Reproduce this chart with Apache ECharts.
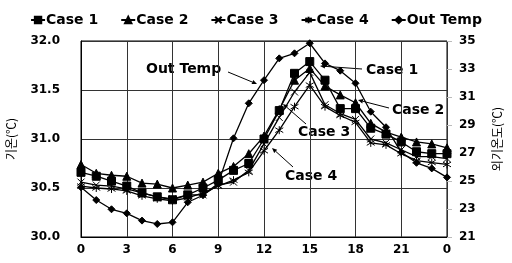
<!DOCTYPE html>
<html>
<head>
<meta charset="utf-8">
<script src="https://cdn.jsdelivr.net/npm/echarts@6/dist/echarts.min.js"></script>
<style>
  html, body { margin: 0; padding: 0; background: #fff; }
  #chart { width: 512px; height: 263px; }
</style>
</head>
<body>
<div id="chart"></div>
<script>
// hour of day, last point wraps back to 0
const hours = ['0','1','2','3','4','5','6','7','8','9','10','11','12','13','14','15','16','17','18','19','20','21','22','23','0']

// indoor temperature (left axis, °C)
const case1 = [30.66,30.62,30.57,30.52,30.45,30.41,30.38,30.43,30.50,30.58,30.68,30.75,31.00,31.29,31.67,31.79,31.60,31.31,31.31,31.11,31.05,30.97,30.87,30.85,30.85]
const case2 = [30.74,30.65,30.63,30.62,30.55,30.54,30.50,30.53,30.56,30.65,30.72,30.85,31.03,31.30,31.60,31.72,31.54,31.45,31.37,31.16,31.07,31.02,30.97,30.95,30.91]
const case3 = [30.56,30.53,30.52,30.49,30.45,30.41,30.39,30.43,30.43,30.53,30.56,30.68,30.95,31.22,31.48,31.68,31.35,31.26,31.20,31.00,30.96,30.89,30.82,30.82,30.80]
const case4 = [30.52,30.50,30.49,30.47,30.42,30.39,30.37,30.40,30.45,30.52,30.58,30.66,30.88,31.09,31.33,31.55,31.33,31.24,31.17,30.96,30.94,30.85,30.78,30.76,30.74]

// outdoor temperature (right axis, °C)
const outTemp = [24.55,23.64,22.98,22.69,22.17,21.93,22.05,23.48,23.98,24.83,28.05,30.55,32.20,33.76,34.12,34.84,33.40,32.88,31.98,29.95,28.84,27.05,26.30,25.90,25.26]

const FONT = 'DejaVu Sans'
const crossPath = 'path://M0,0L10,10M10,0L0,10'
const starPath = 'path://M0,2L10,8M10,2L0,8M5,0L5,10'

function mk(name, data, symbol, size, yIdx) {
    return {
        name: name,
        type: 'line',
        data: data,
        yAxisIndex: yIdx,
        symbol: symbol,
        symbolSize: size,
        showSymbol: true,
        animation: false,
        lineStyle: {color: '#000', width: 1.3},
        itemStyle: {color: '#000', borderColor: '#000', borderWidth: 1}
    }
}

// small arrow for the callout labels
function arrow(x1, y1, x2, y2) {
    let a = Math.atan2(y2 - y1, x2 - x1)
    let l = 5, w = 2.2
    let bx = x2 - l * Math.cos(a), by = y2 - l * Math.sin(a)
    return [
        {type: 'line', shape: {x1: x1, y1: y1, x2: bx, y2: by}, style: {stroke: '#000', lineWidth: 1}},
        {type: 'polygon', shape: {points: [[x2, y2],
            [bx + w * Math.sin(a), by - w * Math.cos(a)],
            [bx - w * Math.sin(a), by + w * Math.cos(a)]]}, style: {fill: '#000'}}
    ]
}

function label(text, x, y) {
    return {type: 'text', x: x, y: y, style: {text: text, font: 'bold 14px "' + FONT + '"', fill: '#000', textVerticalAlign: 'middle'}}
}

let chart = echarts.init(document.getElementById('chart'), null, {renderer: 'canvas'})
chart.setOption({
    animation: false,
    backgroundColor: '#fff',
    textStyle: {fontFamily: FONT},
    legend: {
        top: 8,
        left: 'center',
        itemGap: 22,
        itemWidth: 14,
        itemHeight: 8,
        textStyle: {fontFamily: FONT, fontWeight: 'bold', fontSize: 14, color: '#000', padding: [0, 0, 0, -4]},
        data: ['Case 1', 'Case 2', 'Case 3', 'Case 4', 'Out Temp']
    },
    grid: {left: 81, right: 65, top: 41, bottom: 26, show: true, borderColor: '#000', borderWidth: 1,
        containLabel: false, outerBoundsMode: 'none'},
    xAxis: {
        type: 'category',
        data: hours,
        boundaryGap: false,
        axisLine: {lineStyle: {color: '#000'}},
        axisTick: {show: false},
        axisLabel: {interval: 2, color: '#000', fontWeight: 'bold', fontSize: 12, margin: 7, fontFamily: FONT},
        splitLine: {show: true, interval: 2, lineStyle: {color: '#333', width: 1}}
    },
    yAxis: [{
        type: 'value',
        min: 30, max: 32, interval: 0.5,
        name: '기온(℃)',
        nameLocation: 'middle',
        nameGap: 64,
        nameRotate: 90,
        nameTextStyle: {fontFamily: 'Noto Sans CJK KR', fontSize: 12, color: '#000'},
        axisLine: {show: true, lineStyle: {color: '#000'}},
        axisTick: {show: false},
        axisLabel: {color: '#000', fontWeight: 'bold', fontSize: 12, margin: 21, fontFamily: FONT,
            formatter: v => v.toFixed(1)},
        splitLine: {show: true, lineStyle: {color: '#333', width: 1}}
    }, {
        type: 'value',
        min: 21, max: 35, interval: 2,
        name: '외기온도(℃)',
        nameLocation: 'middle',
        nameGap: 44,
        nameRotate: 90,
        nameTextStyle: {fontFamily: 'Noto Sans CJK KR', fontSize: 12, color: '#000'},
        axisLine: {show: false},
        axisTick: {show: true, length: 5, inside: false, lineStyle: {color: '#bbb'}},
        axisLabel: {color: '#000', fontWeight: 'bold', fontSize: 12, margin: 12, fontFamily: FONT},
        splitLine: {show: false}
    }],
    series: [
        mk('Case 1', case1, 'rect', 8, 0),
        mk('Case 2', case2, 'triangle', 8, 0),
        mk('Case 3', case3, crossPath, 7, 0),
        mk('Case 4', case4, starPath, 8, 0),
        mk('Out Temp', outTemp, 'diamond', 7, 1)
    ],
    graphic: [
        label('Out Temp', 146, 69),
        label('Case 1', 366, 70),
        label('Case 2', 392, 110),
        label('Case 3', 298, 132),
        label('Case 4', 285, 176)
    ].concat(
        arrow(228, 72, 257, 84),
        arrow(362, 69, 320, 66),
        arrow(389, 108, 358, 100),
        arrow(306, 124, 283, 104),
        arrow(293, 167, 272, 148)
    )
})
</script>
</body>
</html>
